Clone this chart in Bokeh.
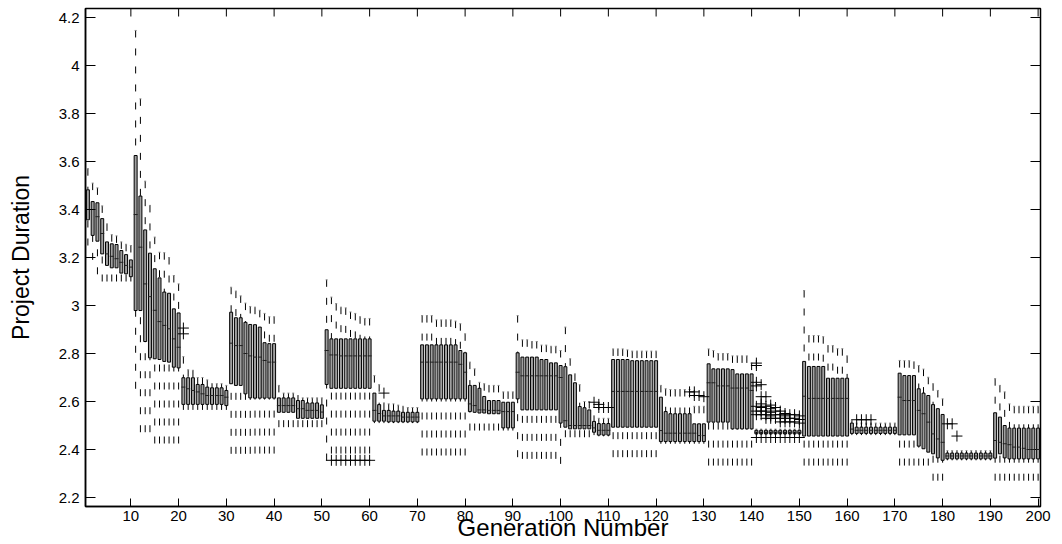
import math
from bokeh.plotting import figure
from bokeh.models import ColumnDataSource, FixedTicker, Range1d
from bokeh.embed import file_html
from bokeh.resources import INLINE

generation = list(range(1, 201))

whisker_low = [
    3.25, 3.19, 3.13, 3.10, 3.10, 3.10, 3.10, 3.10, 3.10, 3.10,
    2.653, 2.472, 2.472, 2.472, 2.425, 2.425, 2.425, 2.425, 2.425, 2.425,
    2.565, 2.565, 2.565, 2.565, 2.565, 2.565, 2.565, 2.565, 2.565, 2.565,
    2.382, 2.382, 2.382, 2.382, 2.382, 2.383, 2.383, 2.383, 2.383, 2.383,
    2.493, 2.493, 2.493, 2.493, 2.493, 2.493, 2.493, 2.493, 2.493, 2.493,
    2.354, 2.383, 2.383, 2.383, 2.383, 2.383, 2.383, 2.383, 2.383, 2.383,
    2.51, 2.51, 2.51, 2.51, 2.51, 2.51, 2.51, 2.51, 2.51, 2.51,
    2.375, 2.375, 2.375, 2.375, 2.375, 2.375, 2.375, 2.375, 2.375, 2.375,
    2.479, 2.479, 2.479, 2.479, 2.479, 2.479, 2.479, 2.479, 2.479, 2.479,
    2.368, 2.361, 2.361, 2.361, 2.361, 2.361, 2.361, 2.361, 2.361, 2.34,
    2.451, 2.451, 2.451, 2.451, 2.451, 2.451, 2.46, 2.455, 2.455, 2.455,
    2.368, 2.368, 2.368, 2.368, 2.368, 2.368, 2.368, 2.368, 2.368, 2.368,
    2.424, 2.424, 2.424, 2.424, 2.424, 2.424, 2.424, 2.424, 2.424, 2.424,
    2.333, 2.333, 2.333, 2.333, 2.333, 2.333, 2.333, 2.333, 2.333, 2.333,
    2.462, 2.462, 2.462, 2.462, 2.462, 2.462, 2.462, 2.462, 2.462, 2.462,
    2.333, 2.333, 2.333, 2.333, 2.333, 2.333, 2.333, 2.333, 2.333, 2.333,
    2.46, 2.46, 2.46, 2.46, 2.46, 2.46, 2.46, 2.46, 2.46, 2.46,
    2.333, 2.333, 2.333, 2.333, 2.333, 2.333, 2.333, 2.27, 2.27, 2.27,
    2.355, 2.355, 2.355, 2.355, 2.355, 2.355, 2.355, 2.355, 2.355, 2.355,
    2.27, 2.27, 2.27, 2.27, 2.27, 2.27, 2.27, 2.27, 2.27, 2.27,
]

q1 = [
    3.357, 3.292, 3.268, 3.215, 3.167, 3.157, 3.157, 3.135, 3.132, 3.12,
    2.979, 2.979, 2.85, 2.782, 2.778, 2.775, 2.767, 2.764, 2.743, 2.74,
    2.588, 2.588, 2.588, 2.588, 2.588, 2.588, 2.588, 2.588, 2.588, 2.583,
    2.674, 2.667, 2.667, 2.632, 2.615, 2.614, 2.614, 2.614, 2.614, 2.614,
    2.555, 2.555, 2.555, 2.555, 2.53, 2.53, 2.53, 2.53, 2.53, 2.53,
    2.671, 2.655, 2.655, 2.655, 2.655, 2.655, 2.655, 2.655, 2.655, 2.655,
    2.518, 2.518, 2.518, 2.515, 2.515, 2.515, 2.515, 2.515, 2.515, 2.515,
    2.611, 2.611, 2.611, 2.611, 2.611, 2.611, 2.611, 2.611, 2.611, 2.611,
    2.558, 2.555, 2.552, 2.552, 2.549, 2.549, 2.549, 2.49, 2.49, 2.49,
    2.611, 2.565, 2.565, 2.565, 2.565, 2.565, 2.565, 2.565, 2.565, 2.51,
    2.493, 2.486, 2.486, 2.486, 2.486, 2.486, 2.472, 2.46, 2.46, 2.46,
    2.493, 2.493, 2.493, 2.493, 2.493, 2.493, 2.493, 2.493, 2.493, 2.493,
    2.433, 2.433, 2.433, 2.433, 2.433, 2.433, 2.433, 2.433, 2.433, 2.433,
    2.514, 2.514, 2.514, 2.514, 2.514, 2.486, 2.486, 2.486, 2.486, 2.486,
    2.465, 2.465, 2.465, 2.465, 2.465, 2.465, 2.465, 2.465, 2.465, 2.465,
    2.456, 2.456, 2.456, 2.456, 2.456, 2.456, 2.456, 2.456, 2.456, 2.456,
    2.467, 2.467, 2.467, 2.467, 2.467, 2.467, 2.467, 2.467, 2.467, 2.467,
    2.461, 2.461, 2.461, 2.461, 2.414, 2.403, 2.389, 2.382, 2.365, 2.355,
    2.361, 2.361, 2.361, 2.361, 2.361, 2.361, 2.361, 2.361, 2.361, 2.361,
    2.364, 2.382, 2.365, 2.361, 2.361, 2.361, 2.361, 2.361, 2.361, 2.361,
]

median = [
    3.40, 3.40, 3.37, 3.30, 3.215, 3.205, 3.195, 3.18, 3.167, 3.16,
    3.379, 3.243, 3.09, 3.037, 2.98, 2.933, 2.917, 2.903, 2.861, 2.826,
    2.66, 2.653, 2.646, 2.64, 2.632, 2.625, 2.625, 2.625, 2.625, 2.618,
    2.843, 2.833, 2.833, 2.80, 2.79, 2.785, 2.785, 2.771, 2.764, 2.764,
    2.583, 2.583, 2.583, 2.583, 2.57, 2.57, 2.563, 2.563, 2.563, 2.556,
    2.8125, 2.794, 2.794, 2.79, 2.79, 2.79, 2.79, 2.79, 2.79, 2.79,
    2.563, 2.55, 2.54, 2.54, 2.54, 2.54, 2.535, 2.535, 2.535, 2.535,
    2.764, 2.764, 2.764, 2.764, 2.764, 2.764, 2.764, 2.764, 2.755, 2.722,
    2.59, 2.583, 2.565, 2.565, 2.563, 2.563, 2.563, 2.558, 2.558, 2.558,
    2.722, 2.707, 2.707, 2.707, 2.707, 2.707, 2.707, 2.707, 2.707, 2.70,
    2.52, 2.50, 2.50, 2.50, 2.50, 2.50, 2.49, 2.48, 2.48, 2.48,
    2.642, 2.642, 2.642, 2.642, 2.642, 2.642, 2.642, 2.642, 2.642, 2.642,
    2.479, 2.468, 2.468, 2.468, 2.468, 2.468, 2.468, 2.468, 2.458, 2.458,
    2.678, 2.678, 2.665, 2.665, 2.665, 2.656, 2.656, 2.656, 2.656, 2.646,
    2.472, 2.472, 2.472, 2.472, 2.472, 2.472, 2.472, 2.472, 2.472, 2.472,
    2.622, 2.613, 2.613, 2.613, 2.613, 2.613, 2.613, 2.613, 2.613, 2.613,
    2.485, 2.48, 2.48, 2.48, 2.48, 2.48, 2.48, 2.48, 2.48, 2.48,
    2.618, 2.604, 2.604, 2.604, 2.563, 2.549, 2.514, 2.465, 2.444, 2.43,
    2.373, 2.373, 2.373, 2.373, 2.373, 2.373, 2.373, 2.373, 2.373, 2.373,
    2.4375, 2.43, 2.424, 2.42, 2.41, 2.41, 2.405, 2.40, 2.40, 2.40,
]

q3 = [
    3.482, 3.433, 3.428, 3.362, 3.265, 3.257, 3.254, 3.229, 3.212, 3.19,
    3.625, 3.456, 3.315, 3.218, 3.153, 3.115, 3.056, 3.051, 2.986, 2.969,
    2.699, 2.699, 2.699, 2.671, 2.671, 2.66, 2.657, 2.657, 2.657, 2.646,
    2.972, 2.949, 2.949, 2.93, 2.921, 2.92, 2.91, 2.845, 2.841, 2.841,
    2.615, 2.615, 2.615, 2.615, 2.604, 2.604, 2.594, 2.594, 2.594, 2.586,
    2.899, 2.861, 2.861, 2.861, 2.861, 2.861, 2.861, 2.861, 2.861, 2.861,
    2.635, 2.587, 2.563, 2.563, 2.56, 2.56, 2.555, 2.555, 2.555, 2.555,
    2.836, 2.836, 2.836, 2.836, 2.836, 2.836, 2.836, 2.836, 2.8125, 2.803,
    2.667, 2.667, 2.655, 2.621, 2.604, 2.604, 2.604, 2.597, 2.597, 2.597,
    2.803, 2.785, 2.785, 2.785, 2.785, 2.775, 2.775, 2.761, 2.761, 2.75,
    2.745, 2.711, 2.678, 2.579, 2.574, 2.565, 2.517, 2.508, 2.508, 2.508,
    2.775, 2.775, 2.775, 2.775, 2.77, 2.77, 2.77, 2.77, 2.77, 2.77,
    2.618, 2.558, 2.549, 2.549, 2.549, 2.549, 2.549, 2.507, 2.507, 2.507,
    2.757, 2.736, 2.736, 2.736, 2.736, 2.733, 2.715, 2.715, 2.715, 2.715,
    2.48, 2.48, 2.48, 2.48, 2.48, 2.48, 2.48, 2.48, 2.48, 2.48,
    2.767, 2.746, 2.746, 2.746, 2.746, 2.697, 2.697, 2.697, 2.697, 2.697,
    2.51, 2.493, 2.493, 2.493, 2.493, 2.493, 2.493, 2.493, 2.493, 2.493,
    2.718, 2.708, 2.708, 2.708, 2.653, 2.635, 2.625, 2.587, 2.57, 2.546,
    2.385, 2.385, 2.385, 2.385, 2.385, 2.385, 2.385, 2.385, 2.385, 2.385,
    2.553, 2.535, 2.50, 2.489, 2.489, 2.489, 2.489, 2.489, 2.489, 2.489,
]

whisker_high = [
    3.57, 3.51, 3.49, 3.415, 3.34, 3.295, 3.29, 3.265, 3.255, 3.25,
    4.146, 3.861, 3.518, 3.417, 3.285, 3.222, 3.22, 3.20, 3.125, 3.09,
    2.787, 2.732, 2.73, 2.70, 2.70, 2.69, 2.674, 2.674, 2.674, 2.667,
    3.076, 3.06, 3.04, 3.01, 2.996, 2.993, 2.98, 2.967, 2.953, 2.953,
    2.667, 2.635, 2.635, 2.635, 2.625, 2.615, 2.615, 2.615, 2.615, 2.615,
    3.107, 3.035, 3.008, 2.993, 2.99, 2.973, 2.967, 2.953, 2.946, 2.946,
    2.708, 2.67, 2.594, 2.59, 2.59, 2.585, 2.58, 2.575, 2.575, 2.575,
    2.958, 2.958, 2.958, 2.94, 2.94, 2.94, 2.94, 2.935, 2.924, 2.882,
    2.764, 2.736, 2.68, 2.674, 2.667, 2.667, 2.667, 2.64, 2.64, 2.64,
    2.958, 2.857, 2.857, 2.85, 2.85, 2.835, 2.835, 2.83, 2.83, 2.8125,
    2.91, 2.778, 2.715, 2.67, 2.60, 2.60, 2.54, 2.53, 2.53, 2.53,
    2.819, 2.819, 2.819, 2.815, 2.81, 2.81, 2.81, 2.81, 2.81, 2.81,
    2.667, 2.653, 2.65, 2.65, 2.65, 2.65, 2.65, 2.58, 2.58, 2.58,
    2.819, 2.8125, 2.80, 2.80, 2.80, 2.79, 2.79, 2.79, 2.79, 2.76,
    2.485, 2.485, 2.485, 2.485, 2.485, 2.485, 2.485, 2.485, 2.485, 2.485,
    3.0625, 2.875, 2.875, 2.875, 2.87, 2.833, 2.833, 2.82, 2.82, 2.79,
    2.52, 2.51, 2.51, 2.51, 2.51, 2.51, 2.51, 2.51, 2.51, 2.51,
    2.771, 2.77, 2.77, 2.765, 2.75, 2.735, 2.701, 2.674, 2.646, 2.611,
    2.395, 2.395, 2.395, 2.395, 2.395, 2.395, 2.395, 2.395, 2.395, 2.395,
    2.695, 2.667, 2.64, 2.59, 2.58, 2.58, 2.58, 2.58, 2.58, 2.58,
]

outlier_gen = [
    21, 21,
    52, 53, 54, 55, 56, 57, 58, 59, 60,
    63,
    107, 108, 108, 109, 110,
    127, 128, 128, 129, 130,
    141, 141, 141, 141, 141, 141, 141, 141,
    142, 142, 142, 142, 142, 142, 142,
    143, 143, 143, 143, 143, 143,
    144, 144, 144, 144, 144, 144,
    145, 145, 145, 145, 145,
    146, 146, 146, 146, 146,
    147, 147, 147, 147, 147,
    148, 148, 148, 148,
    149, 149, 149, 149,
    150, 150, 150, 150,
    162, 163, 164, 165,
    181, 182, 183,
]
outlier_value = [
    2.906, 2.882,
    2.355, 2.355, 2.355, 2.355, 2.355, 2.355, 2.355, 2.355, 2.355,
    2.635,
    2.597, 2.588, 2.575, 2.575, 2.575,
    2.64, 2.64, 2.625, 2.625, 2.62,
    2.76, 2.75, 2.68, 2.665, 2.58, 2.56, 2.545, 2.45,
    2.67, 2.62, 2.59, 2.575, 2.56, 2.545, 2.45,
    2.62, 2.58, 2.56, 2.545, 2.53, 2.45,
    2.585, 2.57, 2.555, 2.54, 2.53, 2.45,
    2.575, 2.56, 2.545, 2.53, 2.45,
    2.56, 2.545, 2.53, 2.515, 2.45,
    2.55, 2.54, 2.53, 2.515, 2.45,
    2.545, 2.53, 2.515, 2.45,
    2.545, 2.53, 2.515, 2.45,
    2.54, 2.525, 2.51, 2.45,
    2.524, 2.524, 2.524, 2.524,
    2.507, 2.507, 2.456,
]

x_ticks = [10, 20, 30, 40, 50, 60, 70, 80, 90, 100,
           110, 120, 130, 140, 150, 160, 170, 180, 190, 200]
y_ticks = [2.2, 2.4, 2.6, 2.8, 3.0, 3.2, 3.4, 3.6, 3.8, 4.0, 4.2]
y_tick_labels = ["2.2", "2.4", "2.6", "2.8", "3", "3.2", "3.4", "3.6", "3.8", "4", "4.2"]

X_MIN, X_MAX = 0.5, 200.5
Y_MIN, Y_MAX = 2.1625, 4.2375

src = ColumnDataSource(dict(gen=generation, wl=whisker_low, q1=q1, med=median,
                            q3=q3, wh=whisker_high))

p = figure(width=1062, height=544, x_range=Range1d(X_MIN, X_MAX),
           y_range=Range1d(Y_MIN, Y_MAX), output_backend="svg",
           toolbar_location=None, min_border_left=85, min_border_right=22,
           min_border_top=8, min_border_bottom=38)
p.grid.visible = False
p.outline_line_color = "black"
p.outline_line_width = 1.5

FONT = "Liberation Sans"

xa = p.xaxis[0]
xa.ticker = FixedTicker(ticks=x_ticks)
xa.axis_label = "Generation Number"
xa.axis_label_text_font = FONT
xa.axis_label_text_font_size = "24px"
xa.axis_label_text_font_style = "normal"
xa.axis_label_text_color = "black"
xa.axis_label_standoff = -10
xa.major_label_text_font = FONT
xa.major_label_text_font_size = "15px"
xa.major_label_text_color = "black"
xa.major_label_standoff = 4
xa.major_tick_in = 8
xa.major_tick_out = 0
xa.minor_tick_in = 0
xa.minor_tick_out = 0
xa.axis_line_width = 1.5

ya = p.yaxis[0]
ya.ticker = FixedTicker(ticks=y_ticks)
ya.major_label_overrides = {t: s for t, s in zip(y_ticks, y_tick_labels)}
ya.axis_label = "Project Duration"
ya.axis_label_text_font = FONT
ya.axis_label_text_font_size = "23px"
ya.axis_label_text_font_style = "normal"
ya.axis_label_text_color = "black"
ya.axis_label_standoff = 22
ya.major_label_text_font = FONT
ya.major_label_text_font_size = "15px"
ya.major_label_text_color = "black"
ya.major_label_standoff = 6
ya.major_tick_in = 10
ya.major_tick_out = 0
ya.minor_tick_in = 0
ya.minor_tick_out = 0
ya.axis_line_width = 1.5

# mirrored tick marks on the top and right edges of the box (half clipped by the frame)
p.scatter(x=x_ticks, y=[Y_MAX] * len(x_ticks), marker="dash", angle=math.pi / 2,
          size=16, line_color="black", line_width=1)
p.scatter(x=[X_MAX] * len(y_ticks), y=y_ticks, marker="dash", size=20,
          line_color="black", line_width=1)

# whiskers (dashed), drawn from the whisker end toward the box
p.segment(x0="gen", y0="wh", x1="gen", y1="q3", source=src, line_color="black",
          line_width=1, line_dash="7 11")
p.segment(x0="gen", y0="wl", x1="gen", y1="q1", source=src, line_color="black",
          line_width=1, line_dash="7 11")
# upper whisker caps (tiny)
p.scatter(x="gen", y="wh", source=src, marker="dash", size=2, line_color="#888888",
          line_width=1)
# boxes
p.vbar(x="gen", width=0.62, bottom="q1", top="q3", source=src, fill_color="#a0a0a0",
       line_color="black", line_width=1)
# medians
p.scatter(x="gen", y="med", source=src, marker="dash", size=4, line_color="#202020",
          line_width=1)
# outliers
p.scatter(x=outlier_gen, y=outlier_value, marker="cross", size=11, line_color="black",
          line_width=1)

open("out.html", "w").write(file_html(p, INLINE))
